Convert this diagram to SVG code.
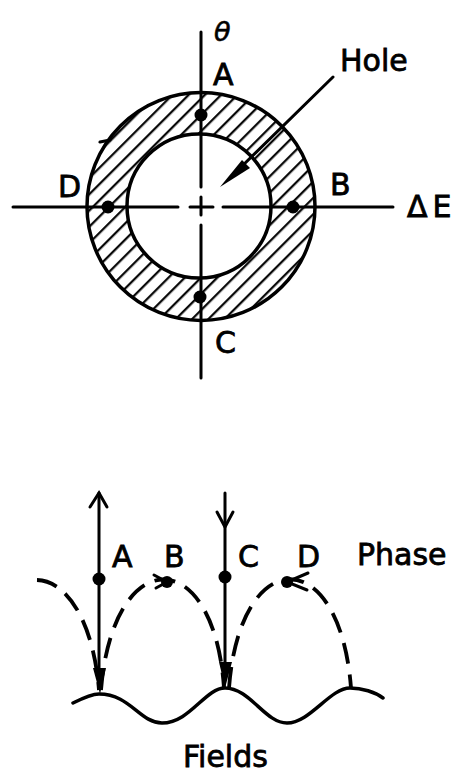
<svg xmlns="http://www.w3.org/2000/svg" width="466" height="781" viewBox="0 0 466 781">
<style>
.ln{stroke:#000;stroke-width:3;fill:none;stroke-linecap:round}
.thick{stroke:#000;stroke-width:3.5;fill:none;stroke-linecap:round}
.dash{stroke:#000;stroke-width:3.8;fill:none;stroke-dasharray:21 11}
.lbl{font-family:"DejaVu Sans",sans-serif;font-size:30px;fill:#000;stroke:#000;stroke-width:0.8}
.dot{fill:#000}
</style>
<defs>
<pattern id="hatch" width="11.5" height="11.5" patternUnits="userSpaceOnUse" patternTransform="rotate(45)">
<line x1="5" y1="0" x2="5" y2="11.5" stroke="#000" stroke-width="2.2"/>
</pattern>
</defs>
<rect width="466" height="781" fill="#fff"/>

<g id="ring">
<path d="M201,92.5 A114,114 0 1,1 201,320.5 A114,114 0 1,1 201,92.5 Z M199,134 A72,72 0 1,0 199,278 A72,72 0 1,0 199,134 Z" fill="url(#hatch)" fill-rule="evenodd" stroke="#000" stroke-width="3.5"/>
<path d="M100,142 L110,140" class="ln" stroke-width="2"/>
</g>

<g id="axes">
<line x1="201" y1="32" x2="201" y2="187" class="ln"/>
<line x1="201" y1="225" x2="201" y2="378" class="ln"/>
<line x1="13" y1="207" x2="178" y2="207" class="ln"/>
<line x1="223" y1="207" x2="393" y2="207" class="ln"/>
<line x1="190" y1="207" x2="213" y2="207" class="ln"/>
<line x1="201" y1="197" x2="201" y2="215" class="ln"/>
</g>

<g id="hole-pointer">
<line x1="333" y1="77" x2="236" y2="172" class="ln"/>
<polygon points="242,160 250,168 220,187" fill="#000"/>
<text x="340" y="71" class="lbl" font-size="28">Hole</text>
</g>

<g id="points-top">
<circle cx="201" cy="115" r="6.5" class="dot"/>
<circle cx="293" cy="207" r="6.5" class="dot"/>
<circle cx="200" cy="297" r="6.5" class="dot"/>
<circle cx="108" cy="207" r="6.5" class="dot"/>
</g>

<g id="labels-top">
<text x="214" y="41" font-family="DejaVu Sans,sans-serif" font-style="italic" font-size="27" stroke="#000" stroke-width="0.6">θ</text>
<text x="213" y="85" class="lbl">A</text>
<text x="330" y="195" class="lbl">B</text>
<text x="215" y="353" class="lbl">C</text>
<text x="58" y="197" class="lbl">D</text>
<text x="407" y="217" class="lbl" font-size="28" letter-spacing="5">ΔE</text>
</g>

<g id="connectors">
<path d="M73,703 C85,697 92,694 99,694 C130,694 140,723 162,723 C190,723 205,688 225,688 C250,688 265,723 287,723 C310,723 330,688 350,688 C362,688 375,692 383,698" class="thick"/>
<line x1="99" y1="493" x2="99" y2="670" class="ln"/>
<polyline points="90,507 99,493 107,507" class="ln"/>
<polygon points="93,668 106,668 100,694" fill="#000"/>
<line x1="225" y1="493" x2="225" y2="664" class="ln"/>
<polyline points="217,512 225,527 233,512" class="ln"/>
<polygon points="219,662 232,662 225,688" fill="#000"/>
<path d="M37,580 C65,580.5 93,618 99,690" class="dash"/>
<path d="M101,690 C113,543 214,543 224,688" class="dash"/>
<path d="M229,688 C240,543 340,543 351,688" class="dash"/>
<polyline points="154,575 167,582 156,588" class="ln"/>
<polyline points="308,573 287,582 307,590" class="ln"/>
</g>

<g id="points-bottom">
<circle cx="99" cy="579" r="6.5" class="dot"/>
<circle cx="167" cy="582" r="6" class="dot"/>
<circle cx="225" cy="577" r="6.5" class="dot"/>
<circle cx="287" cy="582" r="6" class="dot"/>
</g>

<g id="labels-bottom">
<text x="112" y="567" class="lbl">A</text>
<text x="164" y="567" class="lbl">B</text>
<text x="238" y="567" class="lbl">C</text>
<text x="297" y="567" class="lbl">D</text>
<text x="357" y="565" class="lbl">Phase</text>
<text x="183" y="767" class="lbl" font-size="31">Fields</text>
</g>
</svg>
